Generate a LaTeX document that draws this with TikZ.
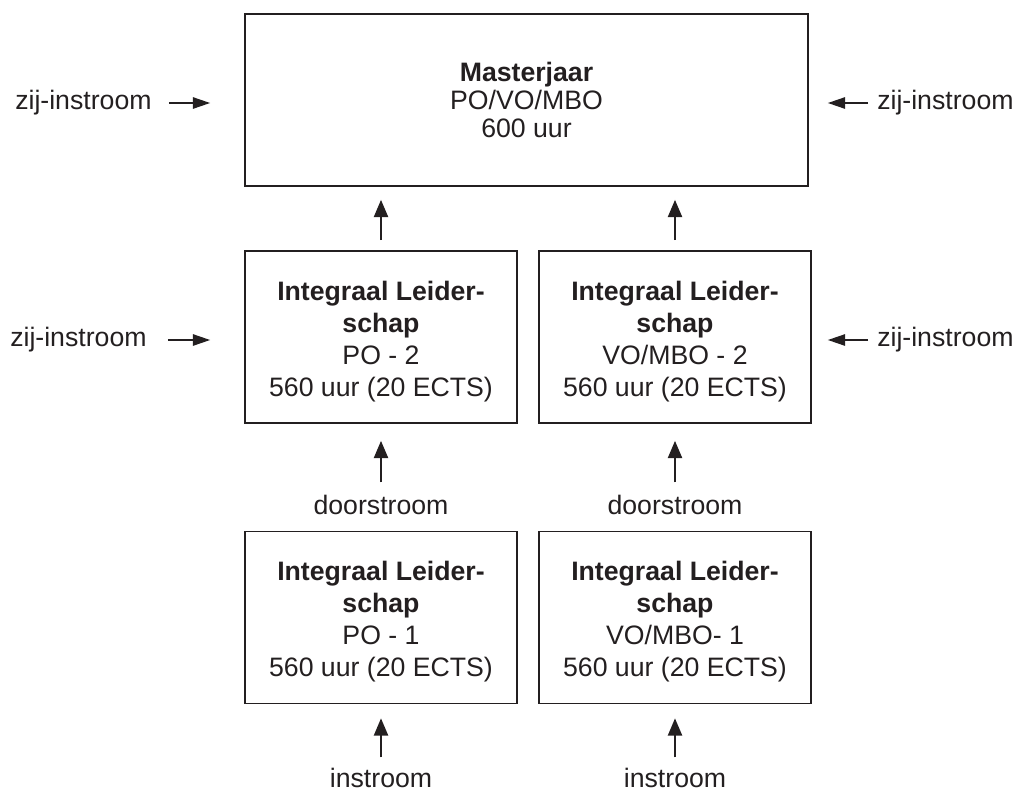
\documentclass[tikz,border=0pt]{standalone}
\usepackage{fontspec}
\setmainfont{Liberation Sans}
\usetikzlibrary{arrows.meta}
\definecolor{ink}{RGB}{35,31,32}
\newcommand{\toplift}{\rule{0pt}{21pt}}
\begin{document}
\begin{tikzpicture}[x=0.75pt,y=-0.75pt,
  box/.style={draw=ink, line width=1.2pt, minimum width=204pt, minimum height=129pt,
    inner sep=0pt, align=center, text=ink, font=\fontsize{20}{24}\selectfont},
  lbl/.style={inner sep=0pt, text=ink, font=\fontsize{20}{24}\selectfont},
  varr/.style={draw=ink, line width=1.8pt, -{Triangle[length=13pt,width=10.5pt]}},
  harr/.style={draw=ink, line width=1.3pt, -{Triangle[length=13pt,width=8.5pt]}}]
\useasboundingbox (0,0) rectangle (1014,793);

% boxes
\node[box, minimum width=422.25pt, font=\fontsize{20}{21}\selectfont] (master) at (526.5,100)
  {\textbf{Masterjaar}\\PO/VO/MBO\\600 uur};
\node[box] (po2) at (381,337) {\toplift\textbf{Integraal Leider-}\\\textbf{schap}\\PO - 2\\560 uur (20 ECTS)};
\node[box] (vo2) at (675,337) {\toplift\textbf{Integraal Leider-}\\\textbf{schap}\\VO/MBO - 2\\560 uur (20 ECTS)};
\node[box] (po1) at (381,617.5) {\toplift\textbf{Integraal Leider-}\\\textbf{schap}\\PO - 1\\560 uur (20 ECTS)};
\node[box] (vo1) at (675,617.5) {\toplift\textbf{Integraal Leider-}\\\textbf{schap}\\VO/MBO- 1\\560 uur (20 ECTS)};

% side labels
\node[lbl, anchor=west] (zl1) at (15,103) {zij-instroom};
\node[lbl, anchor=west] (zl2) at (10,340) {zij-instroom};
\node[lbl, anchor=west] (zr1) at (877,103) {zij-instroom};
\node[lbl, anchor=west] (zr2) at (877,340) {zij-instroom};

% bottom labels
\node[lbl] (d1) at (381,505) {doorstroom};
\node[lbl] (d2) at (675,505) {doorstroom};
\node[lbl] (i1) at (381,778) {instroom};
\node[lbl] (i2) at (675,778) {instroom};

% side arrows
\draw[harr, shorten <=12.75pt, shorten >=25.5pt] (zl1.east) -- (zl1.east -| master.west);
\draw[harr, shorten <=15.75pt, shorten >=25.5pt] (zl2.east) -- (zl2.east -| po2.west);
\draw[harr, shorten <=6.75pt, shorten >=14.25pt] (zr1.west) -- (zr1.west -| master.east);
\draw[harr, shorten <=6.75pt, shorten >=12pt] (zr2.west) -- (zr2.west -| vo2.east);

% vertical arrows
\draw[varr, shorten <=7.5pt, shorten >=9.75pt] (po2.north) -- (po2.north |- master.south);
\draw[varr, shorten <=7.5pt, shorten >=9.75pt] (vo2.north) -- (vo2.north |- master.south);
\draw[varr, shorten <=9.4pt, shorten >=12.75pt] (d1.north) -- (po2.south);
\draw[varr, shorten <=9.4pt, shorten >=12.75pt] (d2.north) -- (vo2.south);
\draw[varr, shorten <=8pt, shorten >=10.5pt] (i1.north) -- (po1.south);
\draw[varr, shorten <=8pt, shorten >=10.5pt] (i2.north) -- (vo1.south);
\end{tikzpicture}
\end{document}
